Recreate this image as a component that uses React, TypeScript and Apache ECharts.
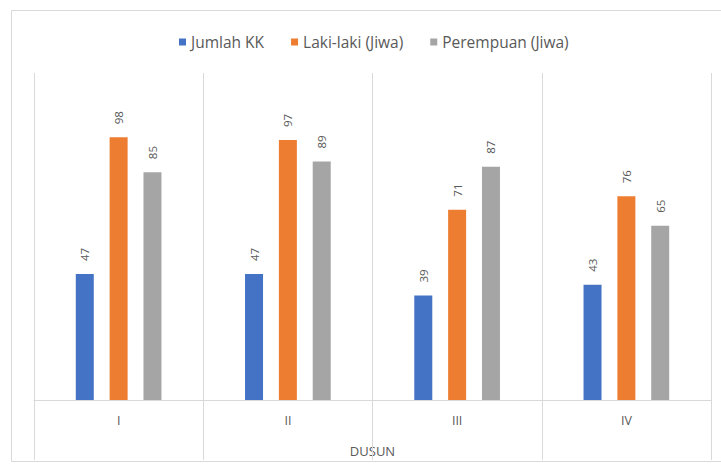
import React, { useEffect, useRef } from "react";
import * as echarts from "echarts";

const categories = ["I", "II", "III", "IV"];
const jumlahKK = [47, 47, 39, 43];
const lakiLaki = [98, 97, 71, 76];
const perempuan = [85, 89, 87, 65];
const seriesNames = ["Jumlah KK", "Laki-laki (Jiwa)", "Perempuan (Jiwa)"];
const axisTitle = "DUSUN";

const FONT = "'Open Sans', sans-serif";
const TXT = "#595959";
const LINE = "#d9d9d9";

export default function App() {
  const ref = useRef<HTMLDivElement>(null);
  useEffect(() => {
    document.body.style.margin = "0";
    const chart = echarts.init(ref.current!, null, { renderer: "svg" });
    const label = {
      show: true,
      position: "top",
      distance: 13,
      rotate: 90,
      align: "left",
      verticalAlign: "middle",
      color: TXT,
      fontSize: 11.5,
      fontFamily: FONT,
    };
    const mk = (name: string, data: number[], color: string) => ({
      name,
      type: "bar",
      data,
      barWidth: 18,
      barGap: "88%",
      itemStyle: { color },
      label,
    });
    chart.setOption({
      animation: false,
      backgroundColor: "#fff",
      graphic: [
        {
          type: "rect",
          shape: { x: 11.5, y: 10.5, width: 712, height: 451 },
          style: { fill: "none", stroke: LINE, lineWidth: 1 },
          silent: true,
        },
      ],
      legend: {
        top: 29,
        left: 174,
        itemWidth: 7,
        itemHeight: 7,
        itemGap: 27,
        icon: "rect",
        textStyle: { color: TXT, fontSize: 15.5, fontFamily: FONT },
        data: seriesNames,
      },
      grid: { left: 34, right: 10, top: 73, bottom: 68 },
      xAxis: {
        type: "category",
        data: categories,
        name: axisTitle,
        nameLocation: "middle",
        nameGap: 44,
        nameTextStyle: { color: TXT, fontSize: 13, fontFamily: FONT },
        axisLine: { show: true, lineStyle: { color: LINE, width: 1 } },
        axisTick: { show: true, length: 60, lineStyle: { color: LINE, width: 1 } },
        axisLabel: { color: TXT, fontSize: 12.5, fontFamily: FONT, margin: 14 },
        splitLine: { show: true, lineStyle: { color: LINE, width: 1 } },
      },
      yAxis: {
        type: "value",
        min: 0,
        max: 122,
        show: false,
        splitLine: { show: false },
      },
      series: [
        mk(seriesNames[0], jumlahKK, "#4472C4"),
        mk(seriesNames[1], lakiLaki, "#ED7D31"),
        mk(seriesNames[2], perempuan, "#A5A5A5"),
      ],
    });
    return () => chart.dispose();
  }, []);
  return <div ref={ref} style={{ width: 721, height: 468 }} />;
}
